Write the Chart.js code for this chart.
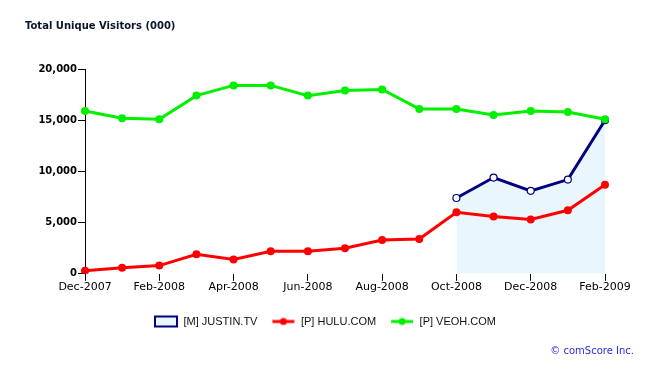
<!DOCTYPE html>
<html>
<head>
<meta charset="utf-8">
<script src="https://cdn.jsdelivr.net/npm/chart.js@4/dist/chart.umd.min.js"></script>
<style>
  html, body { margin: 0; padding: 0; background: #fff; }
</style>
</head>
<body>
<canvas id="myChart" width="650" height="376"></canvas>
<script>
var months = ['Dec-2007', 'Jan-2008', 'Feb-2008', 'Mar-2008', 'Apr-2008', 'May-2008', 'Jun-2008',
  'Jul-2008', 'Aug-2008', 'Sep-2008', 'Oct-2008', 'Nov-2008', 'Dec-2008', 'Jan-2009', 'Feb-2009'];
var justinTv = [null, null, null, null, null, null, null, null, null, null, 7400, 9400, 8100, 9200, 15000];
var hulu = [300, 600, 800, 1900, 1400, 2200, 2200, 2500, 3300, 3400, 6000, 5600, 5300, 6200, 8700];
var veoh = [15900, 15200, 15100, 17400, 18400, 18400, 17400, 17900, 18000, 16100, 16100, 15500, 15900, 15800, 15100];
var seriesNames = ['[M] JUSTIN.TV', '[P] HULU.COM', '[P] VEOH.COM'];
var yTicks = [0, 5000, 10000, 15000, 20000];

var NAVY = '#000080';
var RED = '#ff0000';
var GREEN = '#00f000';
var AREA = '#eaf6fd';

// little canvas icons for the legend (box for the area series, line+dot for the others)
function legendIcon(kind, color) {
  var c = document.createElement('canvas');
  c.width = 24; c.height = 14;
  var g = c.getContext('2d');
  if (kind === 'box') {
    g.fillStyle = AREA;
    g.fillRect(1, 2, 22, 10);
    g.strokeStyle = color;
    g.lineWidth = 2;
    g.strokeRect(1, 2, 22, 10);
  } else {
    g.strokeStyle = color;
    g.lineWidth = 3;
    g.beginPath(); g.moveTo(1, 7); g.lineTo(23, 7); g.stroke();
    g.fillStyle = color;
    g.beginPath(); g.arc(12, 7, 3.5, 0, Math.PI * 2); g.fill();
  }
  return c;
}
var icons = [legendIcon('box', NAVY), legendIcon('line', RED), legendIcon('line', GREEN)];

var textPlugin = {
  id: 'texts',
  afterDraw: function (chart) {
    var ctx = chart.ctx;
    ctx.save();
    ctx.textBaseline = 'middle';
    ctx.font = 'bold 10px "DejaVu Sans"';
    ctx.fillStyle = '#0a1428';
    ctx.fillText('Total Unique Visitors (000)', 25, 26);
    ctx.font = '10px "DejaVu Sans"';
    ctx.fillStyle = '#2b2bd9';
    ctx.textAlign = 'right';
    ctx.fillText('\u00a9 comScore Inc.', 634, 351);
    ctx.restore();
  }
};

var ctx = document.getElementById('myChart').getContext('2d');
var myChart = new Chart(ctx, {
  type: 'line',
  data: {
    labels: months,
    datasets: [
      {
        label: seriesNames[0],
        data: justinTv,
        borderColor: NAVY,
        backgroundColor: AREA,
        borderWidth: 3,
        pointRadius: 3.5,
        pointBackgroundColor: '#fff',
        pointBorderColor: NAVY,
        pointBorderWidth: 1.2,
        fill: 'origin',
        order: 2
      },
      {
        label: seriesNames[1],
        data: hulu,
        borderColor: RED,
        backgroundColor: RED,
        borderWidth: 3,
        pointRadius: 4,
        pointBorderWidth: 0,
        fill: false,
        order: 1
      },
      {
        label: seriesNames[2],
        data: veoh,
        borderColor: GREEN,
        backgroundColor: GREEN,
        borderWidth: 3,
        pointRadius: 4,
        pointBorderWidth: 0,
        fill: false,
        order: 0
      }
    ]
  },
  options: {
    responsive: false,
    animation: false,
    layout: { padding: { top: 69, right: 0, left: 0, bottom: 39 } },
    plugins: {
      tooltip: { enabled: false },
      legend: {
        position: 'bottom',
        labels: {
          usePointStyle: true,
          pointStyleWidth: 24,
          boxHeight: 11,
          padding: 14,
          color: '#111',
          font: { family: '"Liberation Sans"', size: 11 },
          generateLabels: function (chart) {
            return chart.data.datasets.map(function (ds, i) {
              return { text: ds.label, pointStyle: icons[i], datasetIndex: i, fontColor: '#111', lineWidth: 0, strokeStyle: 'transparent', fillStyle: 'transparent' };
            });
          }
        }
      }
    },
    scales: {
      x: {
        type: 'category',
        offset: false,
        border: { display: false },
        grid: { drawOnChartArea: false, drawTicks: true, tickLength: 7, color: '#000' },
        afterFit: function (scale) { scale.height += 8; },
        ticks: {
          autoSkip: false,
          maxRotation: 0,
          padding: 0,
          color: '#000',
          font: { family: '"DejaVu Sans"', size: 11 },
          callback: function (v, i) { return i % 2 === 0 ? months[i] : null; }
        }
      },
      y: {
        min: 0,
        max: 20000,
        border: { display: true, color: '#000', width: 1 },
        grid: { drawOnChartArea: false, drawTicks: true, tickLength: 7, color: '#000' },
        afterBuildTicks: function (scale) {
          scale.ticks = yTicks.map(function (v) { return { value: v }; });
        },
        afterFit: function (scale) { scale.width = 85; },
        ticks: {
          padding: 1,
          color: '#000',
          font: { family: '"DejaVu Sans"', size: 10, weight: 'bold' },
          callback: function (v) { return v.toLocaleString('en-US'); }
        }
      },
      // empty right-hand spacer so the legend stays centred on the whole canvas
      spacer: {
        type: 'linear',
        position: 'right',
        border: { display: false },
        grid: { display: false },
        ticks: { display: false },
        afterFit: function (scale) { scale.width = 45; }
      }
    }
  },
  plugins: [textPlugin]
});
</script>
</body>
</html>
